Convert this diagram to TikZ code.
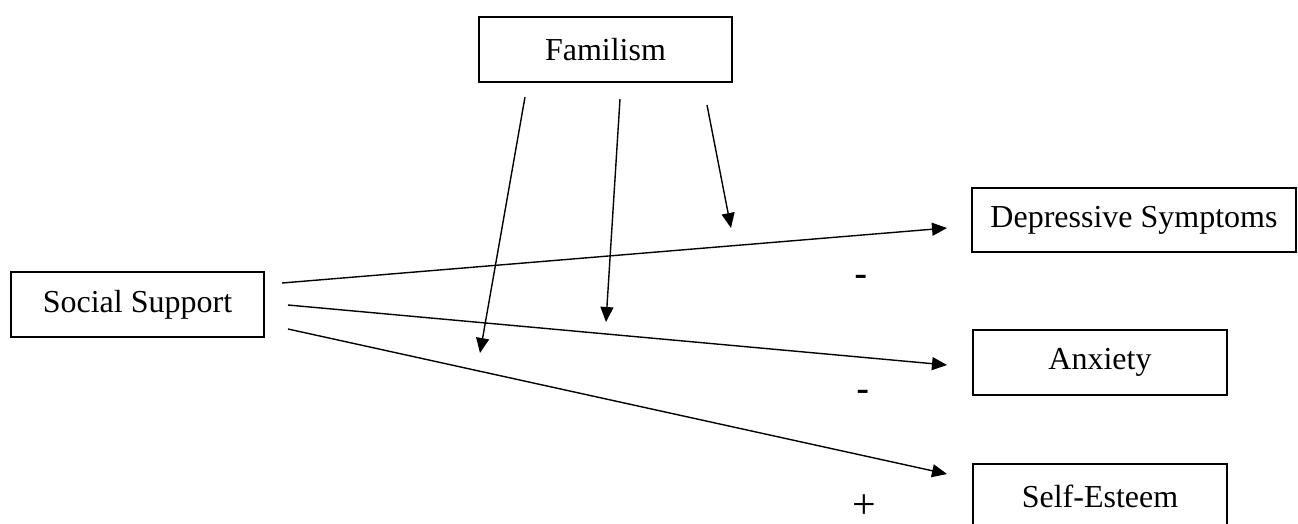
\documentclass[tikz,border=0pt]{standalone}
\usepackage{fontspec}
\setmainfont{Liberation Serif}
\newfontfamily\signfont{Liberation Sans}
\usetikzlibrary{arrows.meta}
\begin{document}
\begin{tikzpicture}[x=1pt,y=-1pt,
  box/.style={draw,line width=1.1pt,inner sep=0pt,font=\fontsize{32}{36}\selectfont},
  link/.style={line width=1.4pt,-{Triangle[length=15pt,width=13pt]}},
  sign/.style={font=\signfont\fontsize{40}{44}\selectfont,inner sep=0pt}]
\useasboundingbox (0,0) rectangle (1298,523);
\node[box,minimum width=253pt,minimum height=65pt] (fam) at (605.5,49.5) {Familism};
\node[box,minimum width=253pt,minimum height=65pt] (soc) at (137.5,304.5) {Social Support};
\node[box,minimum width=324pt,minimum height=64pt] (dep) at (1134,220) {Depressive Symptoms};
\node[box,minimum width=254pt,minimum height=65pt] (anx) at (1100,362.5) {Anxiety};
\node[box,minimum width=254pt,minimum height=65pt] (se) at (1100,496.5) {Self-Esteem};
% free ends
\coordinate (s1) at (282,283);
\coordinate (s2) at (288,305);
\coordinate (s3) at (288,329);
\coordinate (d1) at (947,228);
\coordinate (a1) at (947,365);
\coordinate (e1) at (947,474);
\coordinate (f1) at (525,97);
\coordinate (f2) at (620,99);
\coordinate (f3) at (707,105);
\coordinate (g1) at (480,353);
\coordinate (g2) at (606,322);
\coordinate (g3) at (731,228);
\draw[link] (s1) -- (d1);
\draw[link] (s2) -- (a1);
\draw[link] (s3) -- (e1);
\draw[link] (f1) -- (g1);
\draw[link] (f2) -- (g2);
\draw[link] (f3) -- (g3);
\node[sign] (m1) at (861,281) {-};
\node[sign] (m2) at (863,396) {-};
\node[font=\fontsize{42}{46}\selectfont,inner sep=0pt,text height=24pt,text depth=0pt,anchor=base] (p1) at (864,518) {+};
\end{tikzpicture}
\end{document}
